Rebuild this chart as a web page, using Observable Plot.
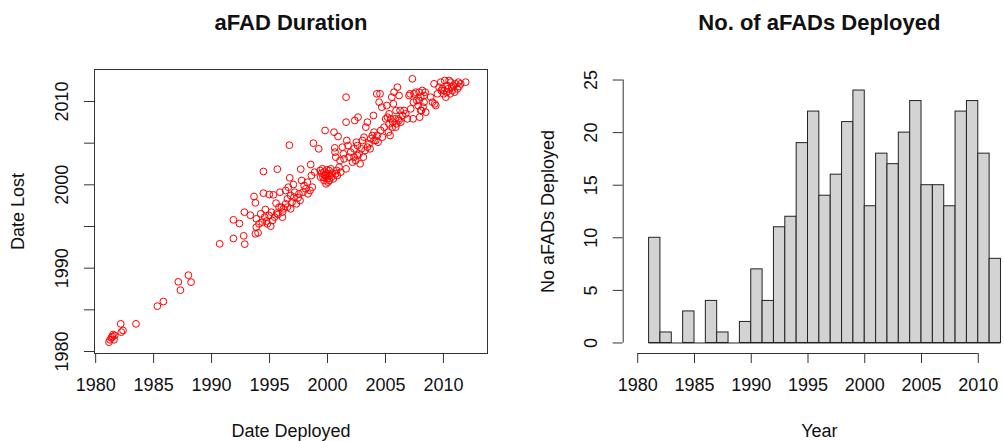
<!DOCTYPE html>
<html>
<head>
<meta charset="utf-8">
<script src="https://cdn.jsdelivr.net/npm/d3@7"></script>
<script src="https://cdn.jsdelivr.net/npm/@observablehq/plot@0.6"></script>
<style>
  html, body { margin: 0; padding: 0; background: #fff; }
  #wrap { display: flex; width: 1004px; height: 441px; overflow: hidden; }
  #wrap svg { flex: none; }
</style>
</head>
<body>
<div id="wrap"></div>
<script>
// ---------- Data ----------
// Scatter: [date deployed, date lost]
const aFADPoints = [
  [1981.15,1981.12],[1981.35,1981.64],[1981.50,1982.04],[1981.58,1981.40],[1981.44,1981.80],
  [1981.24,1981.40],[1981.64,1981.92],[1982.16,1983.32],[1982.21,1982.32],[1982.36,1982.52],
  [1983.48,1983.32],[1985.32,1985.44],[1985.84,1986.00],[1987.13,1988.36],[1987.31,1987.36],
  [1988.00,1989.16],[1988.23,1988.32],
  [1990.70,1992.92],[1991.88,1995.80],[1991.88,1993.56],[1992.40,1995.36],[1992.83,1996.72],
  [1992.86,1992.88],[1992.77,1993.88],
  [1993.34,1996.36],[1993.66,1998.60],[1993.78,1997.84],[1993.86,1995.92],[1993.86,1994.92],
  [1994.01,1994.24],[1993.78,1994.12],[1994.47,2001.60],[1994.47,1999.00],[1994.64,1997.04],
  [1994.58,1996.12],[1994.73,1995.64],[1994.81,1995.32],[1994.98,1998.84],[1995.10,1995.04],
  [1995.33,1998.80],[1995.67,2001.88],[1995.56,1997.80],[1995.44,1996.12],[1995.62,1996.60],
  [1995.73,1996.44],[1995.90,1999.12],[1996.02,1997.32],[1996.11,1996.72],[1996.19,1997.12],
  [1995.24,1995.72],[1994.24,1996.52],[1994.38,1995.52],[1994.96,1996.32],[1994.09,1995.32],
  [1995.16,1996.72],[1995.82,1997.32],
  [1996.39,1999.32],[1996.54,1998.32],[1996.62,1999.72],[1996.71,2004.76],[1996.74,2000.84],
  [1996.82,1998.72],[1996.94,1997.92],[1997.05,2000.04],[1997.17,1999.12],[1997.31,1997.72],
  [1997.46,1998.44],[1997.63,1998.12],[1997.69,2001.88],[1997.77,2000.52],[1997.89,1999.12],
  [1997.98,1999.92],[1998.12,1999.52],[1998.32,1998.92],[1998.49,1999.32],[1998.55,2002.44],
  [1998.61,2001.12],[1998.69,1999.72],[1996.39,1997.72],[1996.54,1997.32],[1996.82,1997.12],
  [1996.11,1996.12],[1997.11,1998.52],[1997.54,1998.92],[1998.26,2000.32],
  [1998.78,2005.00],[1998.89,2001.52],[1999.24,2004.32],[1999.36,2001.72],[1999.50,2001.40],
  [1999.61,2000.92],[1999.70,2001.52],[1999.79,2006.52],[1999.84,2001.12],[1999.93,2001.80],
  [1999.99,2000.72],[2000.05,2001.32],[2000.13,2001.72],[2000.22,2001.12],[2000.28,2001.92],
  [2000.33,2000.92],[2000.42,2001.40],[2000.56,2006.32],[2000.62,2004.44],[2000.65,2003.92],
  [2000.71,2003.32],[2000.79,2001.72],[2000.85,2001.12],[2000.91,2005.80],[2001.00,2002.12],
  [2001.08,2002.92],[2001.14,2001.52],[2001.28,2004.52],[2001.37,2003.72],[2001.43,2003.12],
  [2001.60,2010.52],[2001.60,2007.52],[2001.60,2001.92],[2001.66,2005.32],[1999.87,2000.12],
  [2000.05,2000.32],[1999.70,2000.52],[1999.56,2001.92],[2000.50,2000.72],[1999.76,2001.12],
  [2000.16,2000.52],[1999.41,2000.92],[2000.71,2001.32],
  [2001.77,2004.72],[2001.86,2003.32],[2002.00,2003.92],[2002.15,2002.72],[2002.29,2004.32],
  [2002.35,2007.72],[2002.43,2002.92],[2002.49,2005.12],[2002.58,2004.72],[2002.63,2008.12],
  [2002.72,2003.72],[2002.81,2002.52],[2002.92,2004.32],[2003.01,2005.32],[2003.15,2005.72],
  [2003.24,2004.12],[2003.30,2006.92],[2003.44,2007.52],[2003.58,2004.92],[2003.67,2004.32],
  [2003.73,2005.52],[2003.87,2005.92],[2003.96,2008.32],[2004.01,2006.32],[2004.16,2005.32],
  [2004.25,2010.92],[2004.30,2005.92],[2004.36,2005.12],[2003.09,2003.32],[2002.29,2003.32],
  [2003.44,2004.52],[2004.01,2005.32],[2002.58,2003.52],
  [2004.45,2009.92],[2004.53,2010.92],[2004.59,2006.52],[2004.68,2009.32],[2004.73,2005.72],
  [2004.88,2006.92],[2005.02,2007.92],[2005.11,2009.52],[2005.17,2008.12],[2005.25,2006.32],
  [2005.31,2007.32],[2005.40,2005.92],[2005.45,2007.92],[2005.54,2010.52],[2005.63,2007.52],
  [2005.68,2009.72],[2005.74,2011.12],[2005.83,2007.92],[2005.91,2008.92],[2005.97,2007.32],
  [2006.03,2011.72],[2006.11,2007.92],[2006.17,2010.72],[2006.26,2008.92],[2006.32,2007.52],
  [2006.46,2008.32],[2006.60,2008.92],[2006.75,2008.52],[2006.89,2007.92],[2007.03,2010.72],
  [2007.12,2010.92],[2007.18,2009.12],[2005.60,2006.92],[2005.88,2006.92],[2005.31,2008.52],
  [2006.17,2007.72],
  [2007.32,2012.72],[2007.38,2007.92],[2007.41,2009.92],[2007.47,2010.92],[2007.61,2011.12],
  [2007.70,2010.12],[2007.81,2009.52],[2007.90,2011.12],[2007.95,2008.12],[2008.04,2010.52],
  [2008.10,2008.92],[2008.18,2011.32],[2008.24,2009.32],[2008.33,2009.92],[2008.42,2011.12],
  [2008.47,2008.72],[2008.90,2010.52],[2009.05,2009.92],[2009.19,2012.12],[2009.25,2009.72],
  [2009.34,2009.52],[2009.48,2010.92],[2009.62,2011.72],[2009.77,2012.32],[2009.82,2011.32],
  [2009.91,2011.52],[2010.00,2010.92],[2008.04,2008.92],[2008.33,2010.72],[2007.90,2010.12],
  [2010.11,2012.52],[2010.20,2010.52],[2010.28,2011.12],[2010.40,2011.52],[2010.49,2012.52],
  [2010.57,2010.92],[2010.63,2012.32],[2010.72,2011.72],[2010.77,2011.32],[2010.86,2011.92],
  [2010.97,2011.12],[2011.06,2012.12],[2011.20,2011.52],[2011.29,2012.32],[2011.35,2011.80],
  [2011.49,2012.12],[2011.92,2012.32],[2010.05,2011.32],[2010.34,2011.92]
];

// Histogram: yearly bins (start year) and counts
const binYears  = [1981,1982,1983,1984,1985,1986,1987,1988,1989,1990,1991,1992,1993,1994,1995,1996,
                   1997,1998,1999,2000,2001,2002,2003,2004,2005,2006,2007,2008,2009,2010,2011];
const binCounts = [10,1,0,3,0,4,1,0,2,7,4,11,12,19,22,14,16,21,24,13,18,17,20,23,15,15,13,22,23,18,8];

// Tick values / labels
const yearTicks       = [1980,1985,1990,1995,2000,2005,2010];
const lostTicks       = [1980,1985,1990,1995,2000,2005,2010];
const lostTickLabels  = [1980,1990,2000,2010];
const countTicks      = [0,5,10,15,20,25];

const titles = {left: "aFAD Duration", right: "No. of aFADs Deployed"};
const labels = {leftX: "Date Deployed", leftY: "Date Lost", rightX: "Year", rightY: "No aFADs Deployed"};

// ---------- Drawing ----------
const FONT = "'Liberation Sans', Arial, Helvetica, sans-serif";
const INK = "#111";
const LINE = "#333";
const TICK_FS = 18, TITLE_FS = 22, LABEL_FS = 18;

const hist = binYears.map((y, i) => ({year: y, count: binCounts[i]}));

const left = Plot.plot({
  width: 502, height: 441,
  marginLeft: 94, marginRight: 15, marginTop: 69, marginBottom: 88,
  x: {domain: [1979.9, 2013.8], axis: null},
  y: {domain: [1979.76, 2013.84], axis: null},
  style: {fontFamily: FONT, fontSize: TICK_FS + "px", color: INK, background: "white", overflow: "visible"},
  marks: [
    Plot.dot(aFADPoints, {x: d => d[0], y: d => d[1], r: 3.4, stroke: "#ff0000", strokeWidth: 1, fill: "none"}),
    Plot.frame({stroke: LINE, strokeWidth: 1}),
    Plot.axisX({ticks: yearTicks, tickSize: 10, tickPadding: 15, tickFormat: d => String(d), fontSize: TICK_FS, label: null, stroke: LINE, fill: INK}),
    Plot.axisY({ticks: lostTicks, tickSize: 10, tickFormat: () => "", label: null, stroke: LINE}),
    Plot.text(lostTickLabels, {y: d => d, text: d => String(d), frameAnchor: "left", dx: -32, rotate: -90, textAnchor: "middle", lineAnchor: "middle", fontSize: TICK_FS, fill: INK}),
    Plot.text([labels.leftY], {text: d => d, frameAnchor: "left", dx: -76, rotate: -90, textAnchor: "middle", lineAnchor: "middle", fontSize: LABEL_FS, fill: INK}),
    Plot.text([labels.leftX], {text: d => d, frameAnchor: "bottom", dy: 78, textAnchor: "middle", lineAnchor: "middle", fontSize: LABEL_FS, fill: INK}),
    Plot.text([titles.left], {text: d => d, frameAnchor: "top", dy: -47, textAnchor: "middle", lineAnchor: "middle", fontSize: TITLE_FS, fontWeight: "bold", fill: INK})
  ]
});

// R pads xlim [1980, 2012] by 4%; the panel is cut at the image edge
const xPadLo = 1978.72, xPadHi = 2013.28, xCut = 2012.31;
const xCenter = (xPadLo + xPadHi) / 2;
const binEnd = binYears[binYears.length - 1] + 1;

const right = Plot.plot({
  width: 502, height: 441,
  marginLeft: 120.7, marginRight: 0, marginTop: 69, marginBottom: 88,
  x: {domain: [xPadLo, xCut], axis: null},
  y: {domain: [-1, 26], axis: null},
  style: {fontFamily: FONT, fontSize: TICK_FS + "px", color: INK, background: "white", overflow: "visible"},
  marks: [
    Plot.rect(hist, {x1: d => d.year, x2: d => d.year + 1, y1: 0, y2: d => d.count, fill: "#d3d3d3", stroke: "#222", strokeWidth: 1}),
    Plot.ruleY([0], {x1: binYears[0], x2: binEnd, stroke: "#222", strokeWidth: 1}),
    Plot.ruleY([-1], {x1: yearTicks[0], x2: yearTicks[yearTicks.length - 1], stroke: LINE, strokeWidth: 1}),
    Plot.axisX({ticks: yearTicks, tickSize: 10, tickPadding: 15, tickFormat: d => String(d), fontSize: TICK_FS, label: null, stroke: LINE, fill: INK}),
    Plot.ruleX([xPadLo], {y1: countTicks[0], y2: countTicks[countTicks.length - 1], stroke: LINE, strokeWidth: 1}),
    Plot.axisY({ticks: countTicks, tickSize: 10, tickFormat: () => "", label: null, stroke: LINE}),
    Plot.text(countTicks, {y: d => d, text: d => String(d), frameAnchor: "left", dx: -32, rotate: -90, textAnchor: "middle", lineAnchor: "middle", fontSize: TICK_FS, fill: INK}),
    Plot.text([labels.rightY], {text: d => d, frameAnchor: "left", dx: -75, rotate: -90, textAnchor: "middle", lineAnchor: "middle", fontSize: LABEL_FS, fill: INK}),
    Plot.text([labels.rightX], {x: xCenter, text: d => d, frameAnchor: "bottom", dy: 78, textAnchor: "middle", lineAnchor: "middle", fontSize: LABEL_FS, fill: INK}),
    Plot.text([titles.right], {x: xCenter, text: d => d, frameAnchor: "top", dy: -47, textAnchor: "middle", lineAnchor: "middle", fontSize: TITLE_FS, fontWeight: "bold", fill: INK})
  ]
});

document.getElementById("wrap").append(left, right);
</script>
</body>
</html>
